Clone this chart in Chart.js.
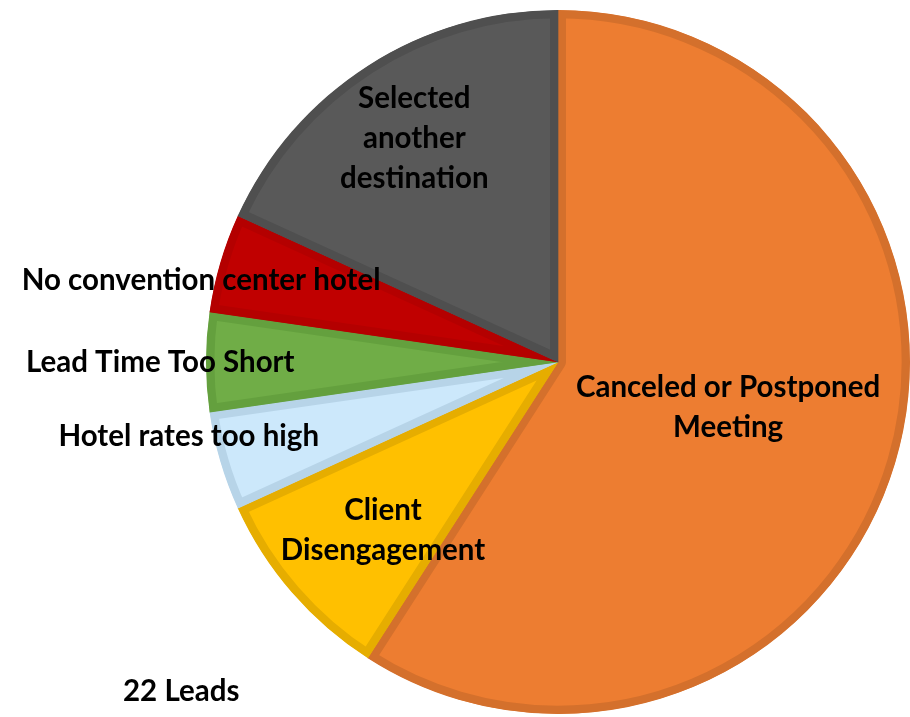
<!DOCTYPE html>
<html>
<head>
<meta charset="utf-8">
<script src="https://cdn.jsdelivr.net/npm/chart.js@4.4.0/dist/chart.umd.min.js"></script>
<style>
  html, body { margin: 0; padding: 0; background: #fff; }
  #wrap { width: 910px; height: 717px; position: relative; }
</style>
</head>
<body>
<div id="wrap"><canvas id="pie"></canvas></div>
<script>
// lost leads by reason, clockwise from 12 o'clock
const reasons = [
    ['Canceled or Postponed', 'Meeting'],
    ['Client', 'Disengagement'],
    ['Hotel rates too high'],
    ['Lead Time Too Short'],
    ['No convention center hotel'],
    ['Selected', 'another', 'destination']
];
const leads = [13, 2, 1, 1, 1, 4];
const totalLabel = '22 Leads';

const fills = ['#ED7D31', '#FFC000', '#CCE8FB', '#70AD47', '#C00000', '#595959'];
const edges = ['#D4702C', '#E6AD00', '#B7D4E8', '#64A03E', '#B40000', '#4F4F4F'];

// label placement: distance as share of radius, nudge of angle in degrees
const labelDist = [0.50, 0.69, 1.07, 1.13, 1.04, 0.755];
const labelNudge = [-1.5, -3, 5, 0, -3.5, 0];

const FONT = 'bold 29.5px Lato, "Open Sans", sans-serif';

const sliceLabels = {
    id: 'sliceLabels',
    afterDatasetsDraw(chart) {
        const ctx = chart.ctx;
        const arcs = chart.getDatasetMeta(0).data;
        ctx.save();
        ctx.font = FONT;
        ctx.fillStyle = '#000';
        ctx.textAlign = 'center';
        ctx.textBaseline = 'middle';
        arcs.forEach((arc, i) => {
            const p = arc.getProps(['x', 'y', 'startAngle', 'endAngle', 'outerRadius'], true);
            const a = (p.startAngle + p.endAngle) / 2 + labelNudge[i] * Math.PI / 180;
            const r = p.outerRadius * labelDist[i];
            const cx = p.x + Math.cos(a) * r;
            const cy = p.y + Math.sin(a) * r;
            const lines = reasons[i];
            const lh = 40;
            lines.forEach((ln, k) => {
                ctx.fillText(ln, cx, cy + (k - (lines.length - 1) / 2) * lh);
            });
        });
        ctx.textAlign = 'left';
        ctx.fillText(totalLabel, 123, 691);
        ctx.restore();
    }
};

new Chart(document.getElementById('pie'), {
    type: 'pie',
    data: {
        labels: reasons.map(r => r.join(' ')),
        datasets: [{
            data: leads,
            backgroundColor: fills,
            borderColor: edges,
            borderWidth: 8,
            borderAlign: 'inner',
            hoverOffset: 0
        }]
    },
    options: {
        responsive: true,
        maintainAspectRatio: false,
        animation: false,
        layout: { padding: { left: 206, top: 10, right: 0, bottom: 3 } },
        plugins: { legend: { display: false }, tooltip: { enabled: false } }
    },
    plugins: [sliceLabels]
});
</script>
</body>
</html>
